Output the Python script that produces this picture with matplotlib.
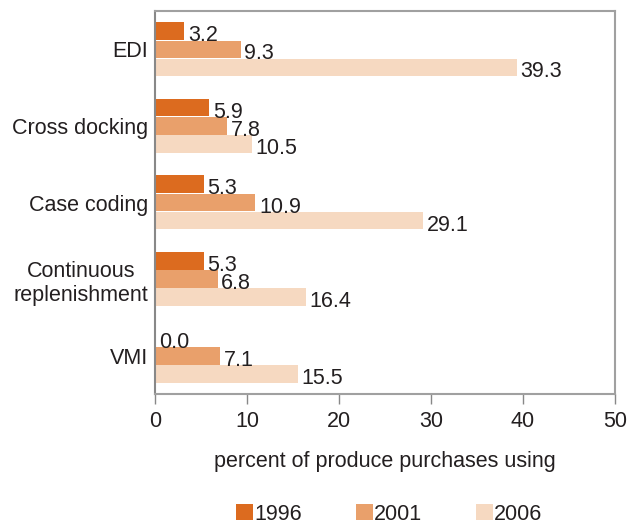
import matplotlib.pyplot as plt
import numpy as np

plt.rcParams['font.family'] = ['Liberation Sans', 'DejaVu Sans']

categories = ["EDI", "Cross docking", "Case coding",
              "Continuous\nreplenishment", "VMI"]
years = ["1996", "2001", "2006"]
v1996 = [3.2, 5.9, 5.3, 5.3, 0.0]
v2001 = [9.3, 7.8, 10.9, 6.8, 7.1]
v2006 = [39.3, 10.5, 29.1, 16.4, 15.5]
x_ticks = [0, 10, 20, 30, 40, 50]

colors = ["#dc6b1f", "#e9a06b", "#f6d9c1"]
text_color = "#231f20"
fs = 15.5


def main():
    fig = plt.figure(figsize=(6.38, 5.25), dpi=100)
    ax = fig.add_axes([0.243, 0.249, 0.721, 0.730])

    y = np.arange(len(categories))
    offsets = [-0.24, 0.0, 0.235]
    h = 0.23
    for series, off, col, lab in zip([v1996, v2001, v2006], offsets,
                                      colors, years):
        bars = ax.barh(y + off, series, height=h, color=col, label=lab)
        for b, v in zip(bars, series):
            ax.text(v + 0.4, b.get_y() + b.get_height() / 2 + 0.06,
                    f"{v:.1f}", va="center", ha="left",
                    fontsize=fs, color=text_color)

    ax.set_xlim(0, 50)
    ax.set_ylim(4.5, -0.5)
    ax.set_xticks(x_ticks)
    ax.set_yticks(y)
    ax.set_yticklabels(categories, multialignment="center")
    ax.tick_params(axis="y", length=0, pad=5, labelsize=fs,
                   labelcolor=text_color)
    ax.tick_params(axis="x", length=7, width=1, color="#888888", pad=5,
                   labelsize=fs, labelcolor=text_color)
    for side in ["top", "right", "bottom", "left"]:
        ax.spines[side].set_color("#a0a0a0")
        ax.spines[side].set_linewidth(1.5)
    ax.spines["left"].set_color("#888888")

    ax.set_xlabel("percent of produce purchases using", fontsize=fs,
                  color=text_color, labelpad=14)

    fig.legend(loc="lower center", bbox_to_anchor=(0.61, -0.036), ncol=3,
               frameon=False, fontsize=fs, handlelength=0.8,
               handleheight=0.8, handletextpad=0.05, columnspacing=2.5,
               labelcolor=text_color)

    fig.savefig("out.png", dpi=100)


if __name__ == "__main__":
    main()
